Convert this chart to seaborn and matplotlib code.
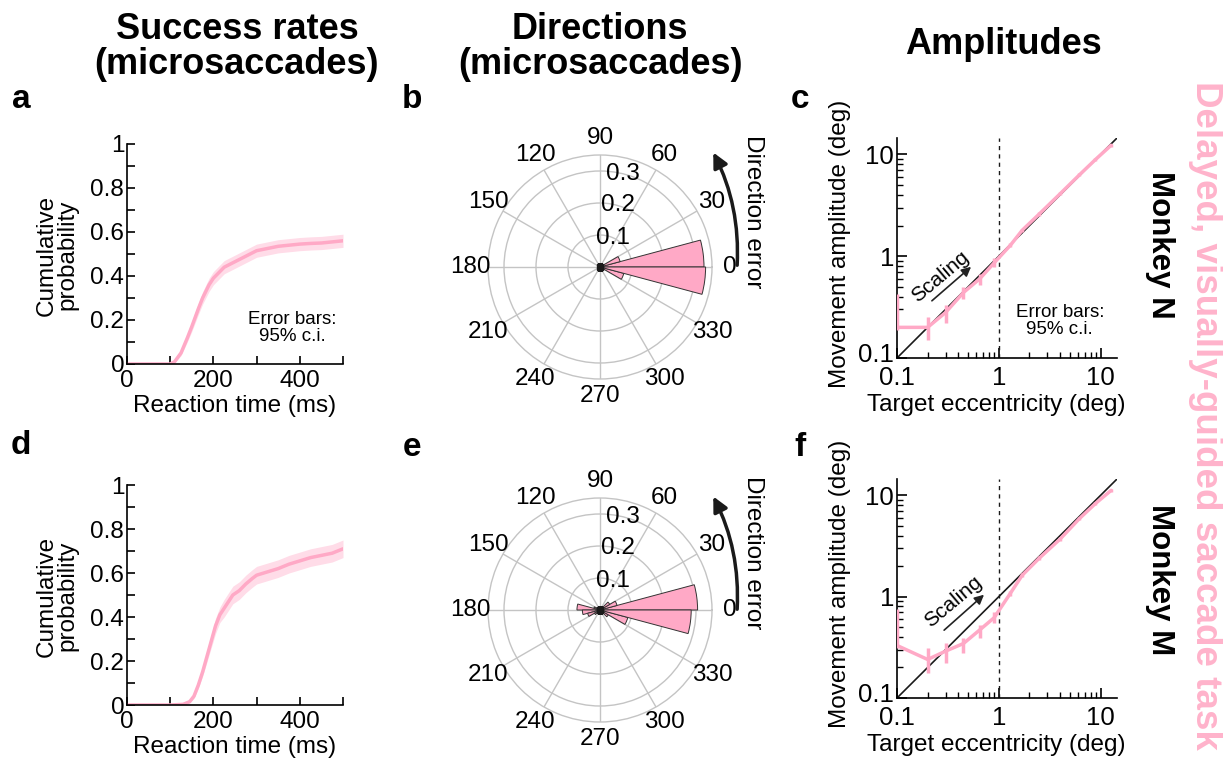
import numpy as np
import pandas as pd
import matplotlib
matplotlib.use("Agg")
import matplotlib.pyplot as plt
import matplotlib.transforms as mtransforms
import seaborn as sns
from matplotlib.patches import FancyArrowPatch
from matplotlib.ticker import FixedLocator, NullFormatter, LogLocator

# ---------------- data ----------------
# Panel a (Monkey N) cumulative probability of reaction time
time_a = [0, 50, 100, 110, 125, 140, 150, 165, 175, 190, 200, 215, 225, 240, 250,
          275, 300, 325, 350, 375, 400, 425, 450, 475, 500]
prob_a = [0, 0, 0, 0.01, 0.05, 0.12, 0.17, 0.25, 0.30, 0.36, 0.39, 0.42, 0.44, 0.455,
          0.465, 0.49, 0.515, 0.525, 0.535, 0.54, 0.545, 0.548, 0.55, 0.555, 0.56]
ci_a = [0, 0, 0, 0.005, 0.012, 0.018, 0.022, 0.026, 0.028, 0.03, 0.03, 0.03, 0.03,
        0.03, 0.03, 0.03, 0.03, 0.03, 0.03, 0.03, 0.03, 0.03, 0.03, 0.03, 0.03]

# Panel d (Monkey M)
time_d = [0, 50, 100, 130, 145, 155, 165, 175, 185, 195, 205, 215, 225, 235, 245,
          260, 275, 290, 300, 325, 350, 375, 400, 425, 450, 475, 500]
prob_d = [0, 0, 0, 0.003, 0.015, 0.04, 0.09, 0.15, 0.22, 0.29, 0.36, 0.41, 0.44,
          0.47, 0.50, 0.52, 0.55, 0.575, 0.59, 0.605, 0.62, 0.64, 0.655, 0.67, 0.68,
          0.69, 0.71]
ci_d = [0, 0, 0, 0.002, 0.005, 0.01, 0.015, 0.02, 0.025, 0.03, 0.035, 0.035, 0.04,
        0.04, 0.04, 0.04, 0.04, 0.04, 0.04, 0.04, 0.04, 0.04, 0.04, 0.04, 0.04, 0.04, 0.04]

# Direction histograms (15 deg bins, centres in degrees)
bin_centers = [7.5, 22.5, 37.5, 52.5, 67.5, 82.5, 97.5, 112.5, 127.5, 142.5, 157.5,
               172.5, 187.5, 202.5, 217.5, 232.5, 247.5, 262.5, 277.5, 292.5, 307.5,
               322.5, 337.5, 352.5]
dir_b = [0.325, 0.065, 0.008, 0.004, 0.003, 0.003, 0.003, 0.003, 0.003, 0.004, 0.005,
         0.006, 0.006, 0.005, 0.004, 0.003, 0.003, 0.003, 0.003, 0.003, 0.004, 0.01,
         0.077, 0.33]
dir_e = [0.305, 0.055, 0.035, 0.012, 0.006, 0.005, 0.005, 0.006, 0.008, 0.012, 0.02,
         0.072, 0.055, 0.04, 0.02, 0.01, 0.006, 0.005, 0.006, 0.008, 0.012, 0.03,
         0.09, 0.285]
radial_ticks = [0.1, 0.2, 0.3]
radial_labels = ["0.1", "0.2", "0.3"]
theta_ticks = [0, 30, 60, 90, 120, 150, 180, 210, 240, 270, 300, 330]
theta_labels = ["0", "30", "60", "90", "120", "150", "180", "210", "240", "270", "300", "330"]

# Amplitude vs eccentricity
ecc = [0.1, 0.2, 0.3, 0.45, 0.65, 0.9, 1.3, 1.7, 2.5, 4.0, 6.2, 8.9, 12.7]
amp_c = [0.2, 0.2, 0.28, 0.44, 0.6, 0.86, 1.28, 1.8, 2.6, 4.1, 6.3, 8.9, 12.3]
amp_c_lo = [0.19, 0.15, 0.22, 0.38, 0.52, 0.78, 1.22, 1.73, 2.5, 3.95, 6.1, 8.6, 11.9]
amp_c_hi = [0.43, 0.25, 0.33, 0.50, 0.67, 0.95, 1.34, 1.87, 2.7, 4.25, 6.5, 9.2, 12.7]
amp_f = [0.33, 0.24, 0.29, 0.345, 0.47, 0.62, 1.08, 1.63, 2.4, 3.7, 5.9, 8.3, 11.2]
amp_f_lo = [0.31, 0.176, 0.224, 0.28, 0.387, 0.544, 1.02, 1.56, 2.3, 3.58, 5.7, 8.0, 10.9]
amp_f_hi = [0.76, 0.31, 0.346, 0.387, 0.52, 0.707, 1.14, 1.7, 2.5, 3.85, 6.1, 8.6, 11.5]

# ---------------- style ----------------
sns.set_theme(style="ticks")
plt.rcParams["font.family"] = ["Liberation Sans", "DejaVu Sans"]
plt.rcParams.update({
    "axes.linewidth": 1.2,
    "xtick.direction": "in",
    "ytick.direction": "in",
    "text.color": "black",
    "axes.labelcolor": "black",
    "axes.edgecolor": "black",
    "xtick.color": "black",
    "ytick.color": "black",
})

PINK = "#ffa9c6"
PINK_BAND = "#ffdce8"
PINK_TITLE = "#ffb3cb"
TICK_FS = 17.5
LAB_FS = 17.5
AMP_TICK_FS = 18.5
POLAR_FS = 17.5

W, H = 1223, 760
fig = plt.figure(figsize=(W / 100, H / 100), dpi=100)


def px_axes(left, top, right, bottom, **kw):
    return fig.add_axes([left / W, 1 - bottom / H, (right - left) / W, (bottom - top) / H], **kw)


def cdf_panel(ax, t, p, ci):
    lo = np.array(p) - np.array(ci)
    hi = np.array(p) + np.array(ci)
    ax.fill_between(t, lo, hi, color=PINK_BAND, lw=0)
    sns.lineplot(x=t, y=p, ax=ax, color=PINK, lw=2.5, estimator=None, sort=False)
    ax.set_xlim(0, 500)
    ax.set_ylim(0, 1)
    ax.set_xticks([0, 100, 200, 300, 400, 500])
    ax.set_xticklabels(["0", "", "200", "", "400", ""])
    ax.set_yticks([0, 0.2, 0.4, 0.6, 0.8, 1.0])
    ax.set_yticklabels(["0", "0.2", "0.4", "0.6", "0.8", "1"])
    ax.set_yticks([0.1, 0.3, 0.5, 0.7, 0.9], minor=True)
    ax.tick_params(which="major", length=6, width=1.2, labelsize=TICK_FS, pad=2)
    ax.tick_params(axis="x", which="major", pad=4.5)
    ax.tick_params(which="minor", length=6, width=1.2)
    sns.despine(ax=ax)
    ax.set_xlabel("Reaction time (ms)", fontsize=LAB_FS)
    ax.xaxis.set_label_coords(0.5, -0.14)
    ax.set_ylabel("Cumulative\nprobability", fontsize=LAB_FS, linespacing=0.95)
    ax.yaxis.set_label_coords(-0.225, 0.495)


def polar_panel(ax, vals):
    theta = np.deg2rad(bin_centers)
    ax.bar(theta, vals, width=np.deg2rad(15), color=PINK, edgecolor="#333333",
           linewidth=0.7, zorder=3)
    ax.plot([0], [0], marker="s", color="k", ms=4, zorder=4)
    rmax = 0.35
    ax.set_ylim(0, rmax)
    ax.set_yticks(radial_ticks)
    ax.set_yticklabels([])
    for ang, r, s in zip([66, 74, 76], radial_ticks, radial_labels):
        ax.text(np.deg2rad(ang), r, s, fontsize=POLAR_FS, ha="center", va="center", zorder=5)
    ax.set_xticks(np.deg2rad(theta_ticks))
    ax.set_xticklabels([])
    for a, s in zip(theta_ticks, theta_labels):
        ax.text(np.deg2rad(a), rmax * 1.155, s, fontsize=POLAR_FS, ha="center", va="center")
    ax.grid(True, color="#c4c4c4", lw=1.0)
    ax.spines["polar"].set_color("#c4c4c4")
    ax.spines["polar"].set_linewidth(1.0)
    ax.set_facecolor("white")
    ax.set_axisbelow(True)


def amp_panel(ax, x, y, lo, hi, arrow_start, arrow_end, text_pos, show_err):
    ax.set_xscale("log")
    ax.set_yscale("log")
    ref = [0.1, 14.5]
    ax.plot(ref, ref, color="k", lw=1.2, zorder=2)
    ax.axvline(1, color="k", lw=1.0, ls=(0, (3, 3)), zorder=1)
    ax.vlines(x, lo, hi, color=PINK, lw=2.5, zorder=3)
    sns.lineplot(x=x, y=y, ax=ax, color=PINK, lw=2.5, estimator=None, sort=False, zorder=4)
    ax.set_xlim(0.1, 14.5)
    ax.set_ylim(0.1, 14.5)
    for axis in (ax.xaxis, ax.yaxis):
        axis.set_major_locator(FixedLocator([0.1, 1, 10]))
        axis.set_minor_locator(LogLocator(base=10, subs=np.arange(2, 10)))
        axis.set_minor_formatter(NullFormatter())
    ax.set_xticklabels(["0.1", "1", "10"])
    ax.set_yticklabels(["0.1", "1", "10"])
    ax.tick_params(which="major", length=7, width=1.2, labelsize=AMP_TICK_FS, pad=2)
    ax.tick_params(axis="x", which="major", pad=5.5)
    ax.tick_params(which="minor", length=4, width=1.0)
    # lift the lowest y tick label slightly, as in the reference
    lbl = ax.get_yticklabels()[0]
    lbl.set_transform(lbl.get_transform() +
                      mtransforms.ScaledTranslation(0, 4 / 72, fig.dpi_scale_trans))
    sns.despine(ax=ax)
    ax.set_xlabel("Target eccentricity (deg)", fontsize=LAB_FS)
    ax.xaxis.set_label_coords(0.45, -0.165)
    ax.set_ylabel("Movement amplitude (deg)", fontsize=LAB_FS)
    ax.yaxis.set_label_coords(-0.21, 0.52)
    ax.annotate("", xy=arrow_end, xytext=arrow_start,
                arrowprops=dict(arrowstyle="-|>", color="#222222", lw=1.2, mutation_scale=14))
    ax.text(text_pos[0], text_pos[1], "Scaling", fontsize=15, rotation=40,
            ha="center", va="center", rotation_mode="anchor")
    if show_err:
        ax.text(0.74, 0.17, "Error bars:\n95% c.i.", transform=ax.transAxes, fontsize=13.5,
                ha="center", va="center", linespacing=1.0)


# ---------------- panels ----------------
ax_a = px_axes(127, 144, 343, 364)
cdf_panel(ax_a, time_a, prob_a, ci_a)
ax_a.text(0.764, 0.164, "Error bars:\n95% c.i.", transform=ax_a.transAxes, fontsize=13.5,
          ha="center", va="center", linespacing=1.0)

ax_d = px_axes(127, 485, 343, 705)
cdf_panel(ax_d, time_d, prob_d, ci_d)

ax_b = px_axes(488, 155, 712, 379, projection="polar")
polar_panel(ax_b, dir_b)
ax_e = px_axes(488, 498, 712, 722, projection="polar")
polar_panel(ax_e, dir_e)

ax_c = px_axes(897, 138, 1117, 358)
amp_panel(ax_c, ecc, amp_c, amp_c_lo, amp_c_hi, (0.21, 0.35), (0.56, 0.82), (0.265, 0.63), True)
ax_f = px_axes(897, 479, 1117, 698)
amp_panel(ax_f, ecc, amp_f, amp_f_lo, amp_f_hi, (0.277, 0.448), (0.75, 1.09), (0.355, 0.89), False)

# ---------------- figure text ----------------
def ftext(x, y, s, **kw):
    fig.text(x / W, 1 - y / H, s, **kw)

ftext(237, 12, "Success rates\n(microsaccades)", fontsize=26, fontweight="bold",
      ha="center", va="top", linespacing=1.0)
ftext(600, 12, "Directions\n(microsaccades)", fontsize=26, fontweight="bold",
      ha="center", va="top", linespacing=1.0)
ftext(1003, 45, "Amplitudes", fontsize=26, fontweight="bold", ha="center", va="center")

for lab, x, y in [("a", 21, 100), ("b", 412, 100), ("c", 800, 100),
                  ("d", 21, 445), ("e", 412, 447), ("f", 800, 447)]:
    ftext(x, y, lab, fontsize=24, fontweight="bold", ha="center", va="center")

ftext(1160, 245, "Monkey N", fontsize=22.5, fontweight="bold", rotation=270,
      ha="center", va="center")
ftext(1160, 580, "Monkey M", fontsize=22.5, fontweight="bold", rotation=270,
      ha="center", va="center")
ftext(1205, 415, "Delayed, visually-guided saccade task", fontsize=26.5, fontweight="bold",
      color=PINK_TITLE, rotation=270, ha="center", va="center")

# Direction error arrows + labels
for (x0, y0, x1, y1, ty) in [(737, 268, 712, 150, 212), (737, 612, 712, 494, 553)]:
    arr = FancyArrowPatch((x0 / W, 1 - y0 / H), (x1 / W, 1 - y1 / H),
                          transform=fig.transFigure, connectionstyle="arc3,rad=0.14",
                          arrowstyle="-|>", mutation_scale=22, lw=2.5, color="k")
    fig.add_artist(arr)
    ftext(753, ty, "Direction error", fontsize=17.5, rotation=270, ha="center", va="center")

fig.savefig("out.png", dpi=100, facecolor="white")
